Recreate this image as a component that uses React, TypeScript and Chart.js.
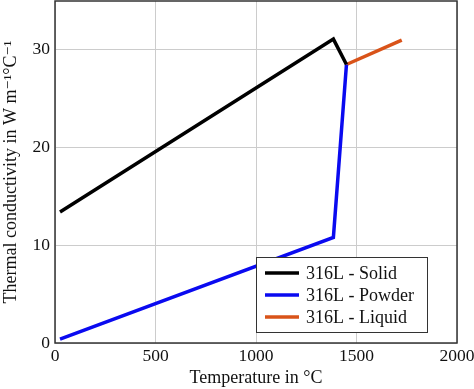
import React, { useEffect, useRef } from "react";
import { Chart, registerables } from "chart.js";

Chart.register(...registerables);

const solidT = [25, 1385, 1450];
const solidK = [13.4, 31.1, 28.5];
const powderT = [25, 1385, 1450];
const powderK = [0.4, 10.8, 28.5];
const liquidT = [1450, 1725];
const liquidK = [28.5, 31.0];
const seriesNames = ["316L - Solid", "316L - Powder", "316L - Liquid"];
const seriesColors = ["#000000", "#0a0af0", "#d95319"];
const xTicks = [0, 500, 1000, 1500, 2000];
const yTicks = [0, 10, 20, 30];

const FONT = "'Liberation Serif', 'DejaVu Serif', serif";

const framePlugin = {
  id: "frameAndLegend",
  afterDraw(chart: any) {
    const { ctx, chartArea } = chart;
    ctx.save();
    ctx.strokeStyle = "#333333";
    ctx.lineWidth = 1.5;
    ctx.strokeRect(chartArea.left, chartArea.top, chartArea.right - chartArea.left, chartArea.bottom - chartArea.top);
    const bx = chartArea.left + 201;
    const by = 257;
    const bw = 171;
    const bh = 75;
    ctx.fillStyle = "#ffffff";
    ctx.fillRect(bx, by, bw, bh);
    ctx.strokeStyle = "#333333";
    ctx.lineWidth = 1;
    ctx.strokeRect(bx + 0.5, by + 0.5, bw, bh);
    ctx.font = "18px " + FONT;
    ctx.textBaseline = "middle";
    ctx.textAlign = "left";
    chart.data.datasets.forEach((ds: any, i: number) => {
      const yy = by + 16 + i * 22;
      ctx.strokeStyle = ds.borderColor;
      ctx.lineWidth = 3.5;
      ctx.beginPath();
      ctx.moveTo(bx + 9, yy);
      ctx.lineTo(bx + 43, yy);
      ctx.stroke();
      ctx.fillStyle = "#111111";
      ctx.fillText(ds.label, bx + 50, yy + 1);
    });
    ctx.restore();
  },
};

export default function App() {
  const ref = useRef<HTMLCanvasElement | null>(null);
  useEffect(() => {
    document.body.style.margin = "0";
    const mk = (t: number[], k: number[]) => t.map((v, i) => ({ x: v, y: k[i] }));
    const datasets = [mk(solidT, solidK), mk(powderT, powderK), mk(liquidT, liquidK)].map((d, i) => ({
      label: seriesNames[i],
      data: d,
      borderColor: seriesColors[i],
      backgroundColor: seriesColors[i],
      borderWidth: 3.5,
      pointRadius: 0,
      tension: 0,
      borderJoinStyle: "miter" as const,
    }));
    const chart = new Chart(ref.current!, {
      type: "line",
      data: { datasets },
      plugins: [framePlugin],
      options: {
        animation: false,
        responsive: false,
        maintainAspectRatio: false,
        layout: { padding: { left: 0, right: 17, top: 1, bottom: 0 } },
        plugins: { legend: { display: false }, tooltip: { enabled: false } },
        scales: {
          x: {
            type: "linear",
            min: 0,
            max: 2000,
            afterBuildTicks: (s: any) => {
              s.ticks = xTicks.map((v) => ({ value: v }));
            },
            afterFit: (s: any) => {
              s.height = 46;
              s.paddingLeft = 0;
              s.paddingRight = 0;
            },
            grid: { color: "#cccccc", lineWidth: 1, tickLength: 0, drawTicks: false },
            border: { display: false },
            ticks: { color: "#111111", font: { family: FONT, size: 17.5 }, padding: 3, maxRotation: 0, callback: (v: any) => String(v) },
            title: { display: true, text: "Temperature in °C", color: "#111111", font: { family: FONT, size: 18 }, padding: { top: 1, bottom: 0 } },
          },
          y: {
            type: "linear",
            min: 0,
            max: 35,
            afterBuildTicks: (s: any) => {
              s.ticks = yTicks.map((v) => ({ value: v }));
            },
            afterFit: (s: any) => {
              s.width = 55;
              s.paddingTop = 0;
              s.paddingBottom = 0;
            },
            grid: { color: "#cccccc", lineWidth: 1, tickLength: 0, drawTicks: false },
            border: { display: false },
            ticks: { color: "#111111", font: { family: FONT, size: 17.5 }, padding: 5, callback: (v: any) => String(v) },
            title: { display: true, text: "Thermal conductivity in W m⁻¹°C⁻¹", color: "#111111", font: { family: FONT, size: 18 }, padding: { top: 0, bottom: 3 } },
          },
        },
      },
    });
    return () => chart.destroy();
  }, []);
  return (
    <div style={{ width: 474, height: 389 }}>
      <canvas ref={ref} width={474} height={389} style={{ display: "block", width: 474, height: 389 }} />
    </div>
  );
}
